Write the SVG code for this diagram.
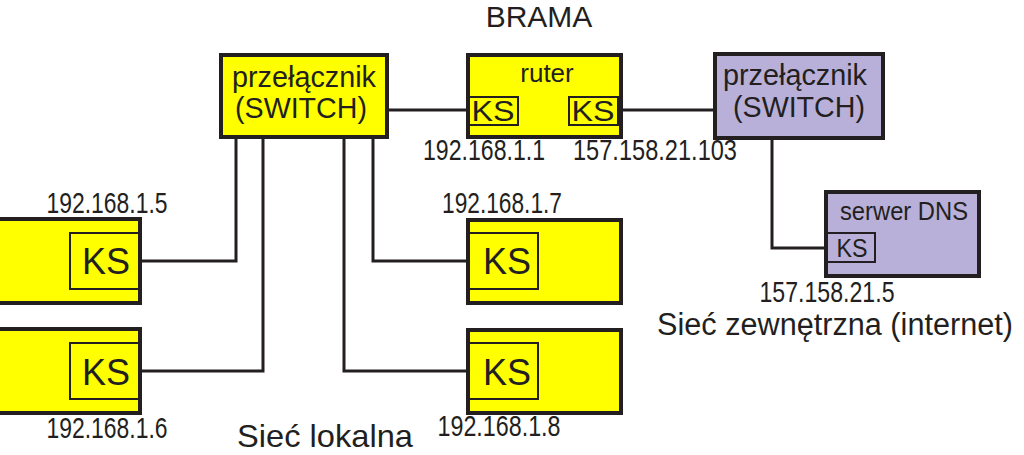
<svg xmlns="http://www.w3.org/2000/svg" width="1024" height="455" viewBox="0 0 1024 455">
<style>
.y{fill:#ffff00;stroke:#231f20;stroke-width:4}
.p{fill:#b8b0d8;stroke:#231f20;stroke-width:4}
.ks{fill:none;stroke:#231f20;stroke-width:2}
.c{fill:none;stroke:#231f20;stroke-width:3}
text{font-family:"Liberation Sans",Arial,sans-serif;fill:#231f20}
.m{text-anchor:middle}
</style>
<rect width="1024" height="455" fill="#fff"/>
<text x="539" y="27" class="m" font-size="30">BRAMA</text>
<g id="connectors">
<path class="c" d="M387 110H468"/>
<path class="c" d="M621 110H715"/>
<path class="c" d="M772 138V248H826"/>
<path class="c" d="M236 137V261H140"/>
<path class="c" d="M263 137V371H140"/>
<path class="c" d="M373 137V261H468"/>
<path class="c" d="M344 137V371H468"/>
</g>
<g id="switch-local">
<rect class="y" x="221" y="55" width="166" height="82"/>
<text x="304" y="87" class="m" font-size="29" textLength="144" lengthAdjust="spacingAndGlyphs">przełącznik</text>
<text x="301" y="118" class="m" font-size="30" textLength="132" lengthAdjust="spacingAndGlyphs">(SWITCH)</text>
</g>
<g id="router">
<rect class="y" x="468" y="55" width="153" height="82"/>
<text x="547" y="82" class="m" font-size="26">ruter</text>
<rect class="ks" x="469" y="97" width="49" height="28"/>
<text x="493" y="121" class="m" font-size="30" textLength="43" lengthAdjust="spacingAndGlyphs">KS</text>
<rect class="ks" x="569" y="97" width="49" height="28"/>
<text x="593" y="121" class="m" font-size="30" textLength="43" lengthAdjust="spacingAndGlyphs">KS</text>
<text x="484" y="160" class="m" font-size="30" textLength="122" lengthAdjust="spacingAndGlyphs">192.168.1.1</text>
<text x="655" y="160" class="m" font-size="30" textLength="164" lengthAdjust="spacingAndGlyphs">157.158.21.103</text>
</g>
<g id="switch-external">
<rect class="p" x="715" y="54" width="168" height="84"/>
<text x="795" y="85" class="m" font-size="29" textLength="144" lengthAdjust="spacingAndGlyphs">przełącznik</text>
<text x="799" y="117" class="m" font-size="30" textLength="132" lengthAdjust="spacingAndGlyphs">(SWITCH)</text>
</g>
<g id="dns">
<rect class="p" x="826" y="192" width="153" height="84"/>
<text x="904" y="220" class="m" font-size="26" textLength="128" lengthAdjust="spacingAndGlyphs">serwer DNS</text>
<rect class="ks" x="827" y="233" width="48" height="29"/>
<text x="852" y="257" class="m" font-size="26" textLength="31" lengthAdjust="spacingAndGlyphs">KS</text>
<text x="827" y="302" class="m" font-size="30" textLength="135" lengthAdjust="spacingAndGlyphs">157.158.21.5</text>
</g>
<g id="pc1">
<rect class="y" x="-4" y="219" width="144" height="84"/>
<rect class="ks" x="70" y="233" width="69" height="56"/>
<text x="106" y="274" class="m" font-size="36">KS</text>
<text x="107" y="213" class="m" font-size="30" textLength="121" lengthAdjust="spacingAndGlyphs">192.168.1.5</text>
</g>
<g id="pc2">
<rect class="y" x="-4" y="329" width="144" height="84"/>
<rect class="ks" x="70" y="343" width="69" height="56"/>
<text x="106" y="385" class="m" font-size="36">KS</text>
<text x="107" y="438" class="m" font-size="30" textLength="121" lengthAdjust="spacingAndGlyphs">192.168.1.6</text>
</g>
<g id="pc3">
<rect class="y" x="468" y="220" width="153" height="83"/>
<rect class="ks" x="469" y="233" width="69" height="56"/>
<text x="507" y="274" class="m" font-size="36">KS</text>
<text x="502" y="213" class="m" font-size="30" textLength="120" lengthAdjust="spacingAndGlyphs">192.168.1.7</text>
</g>
<g id="pc4">
<rect class="y" x="468" y="330" width="153" height="83"/>
<rect class="ks" x="469" y="343" width="69" height="56"/>
<text x="507" y="385" class="m" font-size="36">KS</text>
<text x="499" y="436" class="m" font-size="30" textLength="123" lengthAdjust="spacingAndGlyphs">192.168.1.8</text>
</g>
<text x="325" y="447" class="m" font-size="32" textLength="176" lengthAdjust="spacingAndGlyphs">Sieć lokalna</text>
<text x="835" y="335" class="m" font-size="31" textLength="356" lengthAdjust="spacingAndGlyphs">Sieć zewnętrzna (internet)</text>
</svg>
